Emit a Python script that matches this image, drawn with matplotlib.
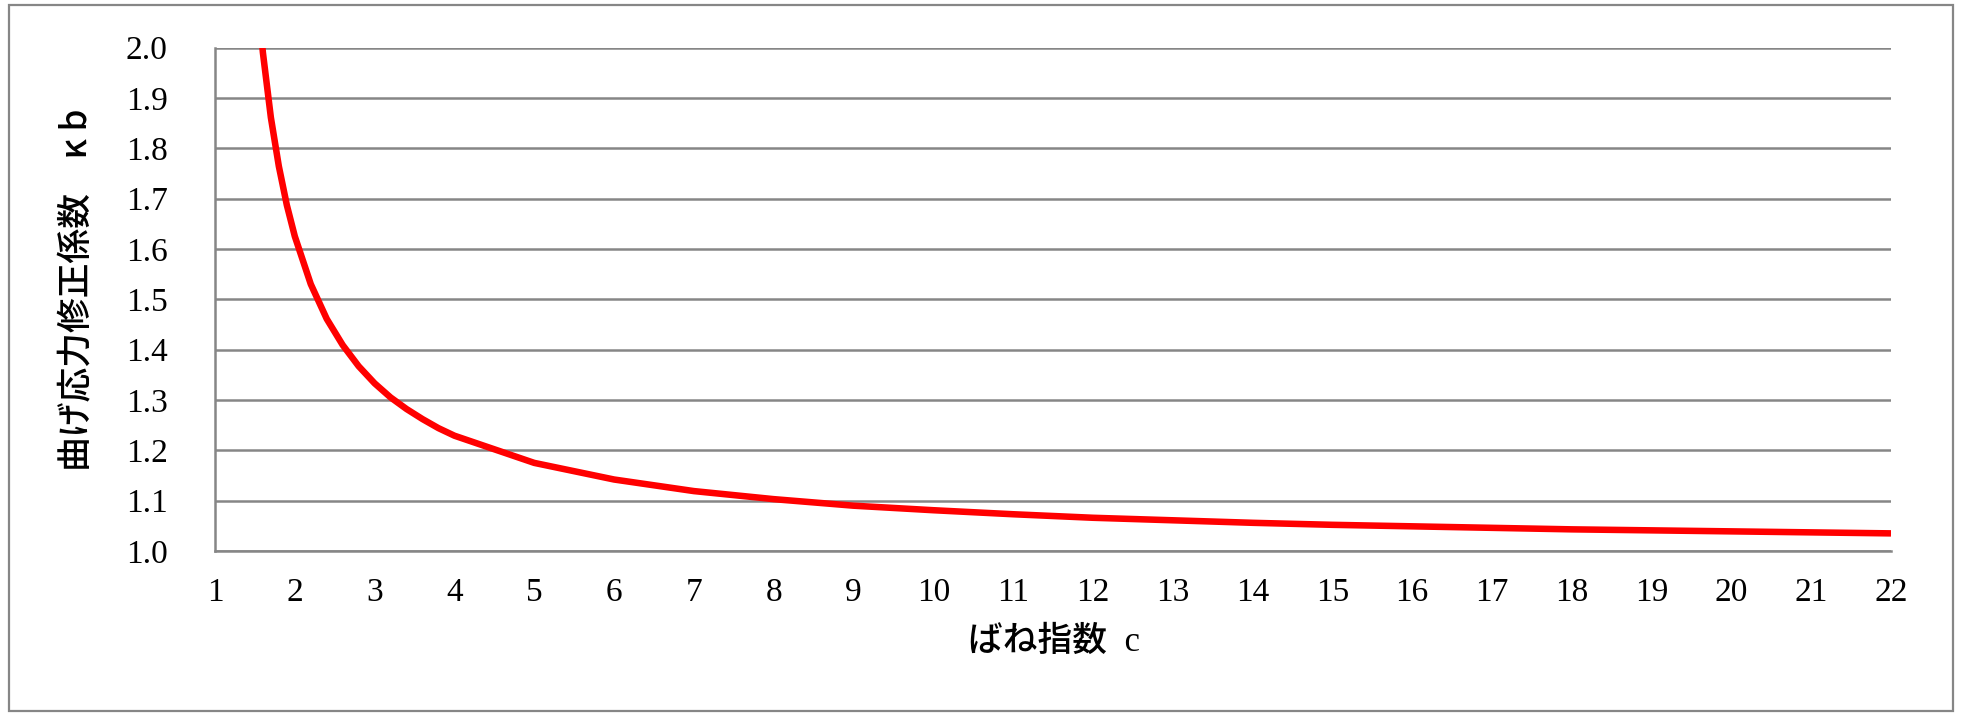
import matplotlib
matplotlib.use("Agg")
import matplotlib.pyplot as plt
from matplotlib.patches import Rectangle

# spring index c and bending stress correction factor kappa_b
spring_index = [1.5, 1.6, 1.7, 1.8, 1.9, 2.0, 2.2, 2.4, 2.6, 2.8, 3.0, 3.2, 3.4, 3.6, 3.8,
                4, 5, 6, 7, 8, 9, 10, 11, 12, 13, 14, 15, 16, 17, 18, 19, 20, 21, 22]
kappa_b = [2.167, 1.990, 1.861, 1.764, 1.687, 1.625, 1.530, 1.461, 1.409, 1.367, 1.333,
           1.305, 1.282, 1.262, 1.244, 1.229, 1.175, 1.142, 1.119, 1.103, 1.090, 1.081,
           1.073, 1.066, 1.061, 1.056, 1.052, 1.049, 1.046, 1.043, 1.041, 1.039, 1.037, 1.035]

x_ticks = list(range(1, 23))
y_ticks = [1.0, 1.1, 1.2, 1.3, 1.4, 1.5, 1.6, 1.7, 1.8, 1.9, 2.0]

x_label = "ばね指数  c"
y_label = "曲げ応力修正係数　κ b"

grid_gray = "#868686"
W, H = 1962, 717

fig = plt.figure(figsize=(W / 100, H / 100), dpi=100)
ax = fig.add_axes([215 / W, 1 - 551 / H, (1891 - 215) / W, (551 - 47.5) / H])

ax.plot(spring_index, kappa_b, color="#ff0000", linewidth=4.7, solid_capstyle="butt",
        zorder=3)

ax.set_xlim(1, 22)
ax.set_ylim(1.0, 2.0)
ax.set_xticks(x_ticks)
ax.set_xticklabels([str(v) for v in x_ticks])
ax.set_yticks(y_ticks)
ax.set_yticklabels([f"{v:.1f}" for v in y_ticks])

ax.grid(axis="y", color=grid_gray, linewidth=1.8)
ax.set_axisbelow(True)
for side in ["top", "right"]:
    ax.spines[side].set_visible(False)
for side in ["left", "bottom"]:
    ax.spines[side].set_color(grid_gray)
    ax.spines[side].set_linewidth(1.8)

ax.tick_params(axis="both", length=0, labelsize=24)
ax.tick_params(axis="x", pad=19)
ax.tick_params(axis="y", pad=34)
for lab in ax.get_xticklabels() + ax.get_yticklabels():
    lab.set_family(["Liberation Serif", "DejaVu Serif"])

fig.text(1054 / W, 1 - 642 / H, x_label, ha="center", va="center", fontsize=25,
         family=["Liberation Serif", "Noto Sans CJK JP"], weight="medium")
fig.text(77 / W, 1 - 290 / H, y_label, ha="center", va="center", rotation=90,
         fontsize=25, family=["Noto Sans CJK JP", "DejaVu Sans"], weight="medium")

# outer chart border
fig.patches.append(Rectangle((9 / W, 1 - 711 / H), (1953 - 9) / W, (711 - 5) / H,
                             transform=fig.transFigure, fill=False,
                             edgecolor=grid_gray, linewidth=1.6))

fig.savefig("out.png", dpi=100)
